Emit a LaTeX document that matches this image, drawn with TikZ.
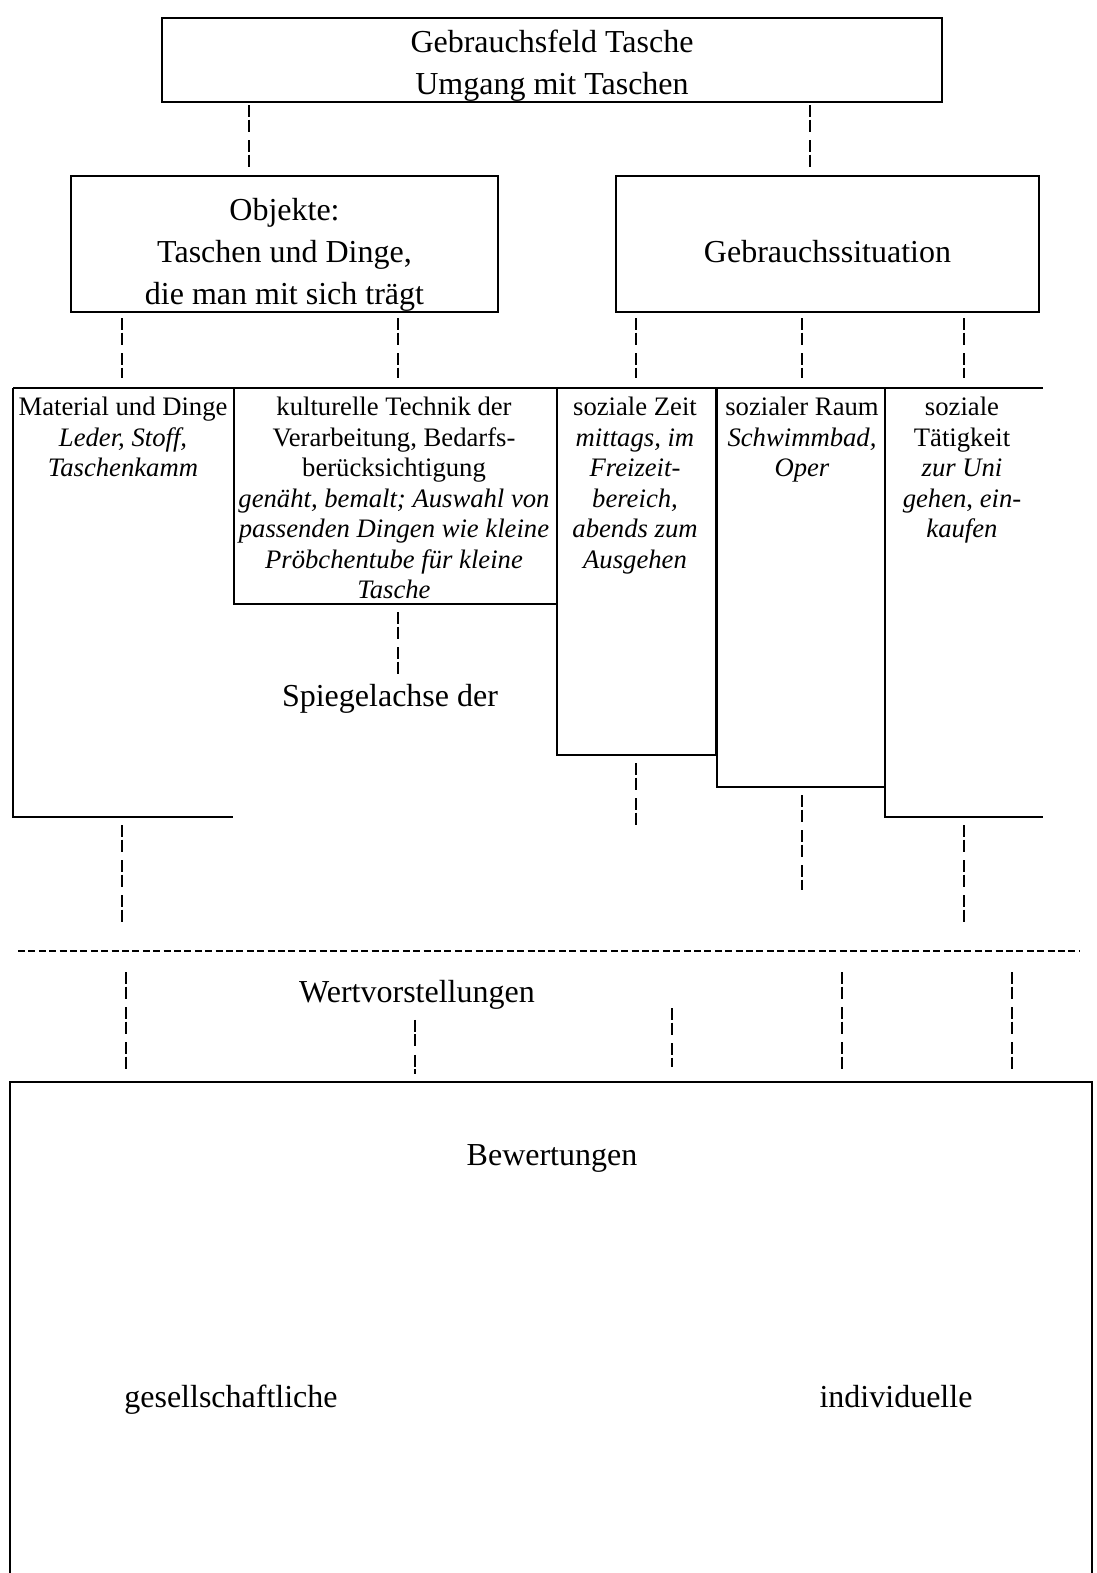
\documentclass[tikz,border=0pt]{standalone}
\usepackage{fontspec}
\setmainfont{Liberation Serif}
\newcommand{\bigtext}{\fontsize{24}{31.5}\selectfont}
\newcommand{\coltext}{\fontsize{20}{22.9}\selectfont}

\begin{document}
\begin{tikzpicture}[x=0.75pt, y=-0.75pt,
        box/.style = {draw, line width=1.6pt},
        txt/.style = {inner sep=0pt, align=center, font=\bigtext},
        col/.style = {anchor=north, inner sep=0pt, align=center, font=\coltext},
        lbl/.style = {anchor=base, inner sep=0pt, font=\bigtext},
        outline/.style = {line width=1.6pt},
        link/.style = {line width=0.9pt, dash pattern=on 9pt off 1.9pt on 9pt off 6.4pt},
        sep/.style = {line width=1.5pt, dash pattern=on 5.2pt off 2.6pt}]
                \useasboundingbox (0, 0) rectangle (1096, 1573);

                \node[box, minimum width=585pt, minimum height=63pt] at (552, 60) (top) {};
                \node[txt] at (552, 66) (top-txt) {Gebrauchsfeld Tasche\\Umgang mit Taschen};
                \node[box, minimum width=320.25pt, minimum height=102pt] at (284.5, 244) (obj) {};
                \node[txt] at (284.5, 254.5) (obj-txt) {Objekte:\\Taschen und Dinge,\\die man mit sich trägt};
                \node[box, minimum width=317.25pt, minimum height=102pt] at (827.5, 244) (sit) {};
                \node[txt] at (827.5, 252) (sit-txt) {Gebrauchssituation};

                \node[col] at (123, 397) (mat) {Material und Dinge\\\textit{Leder, Stoff,}\\\textit{Taschenkamm}};
                \node[col] at (394, 397) (kult) {kulturelle Technik der\\Verarbeitung, Bedarfs-\\berücksichtigung\\\textit{genäht, bemalt; Auswahl von}\\\textit{passenden Dingen wie kleine}\\\textit{Pröbchentube für kleine}\\\textit{Tasche}};
                \node[col] at (635, 397) (zeit) {soziale Zeit\\\textit{mittags, im}\\\textit{Freizeit-}\\\textit{bereich,}\\\textit{abends zum}\\\textit{Ausgehen}};
                \node[col] at (802, 397) (raum) {sozialer Raum\\\textit{Schwimmbad,}\\\textit{Oper}};
                \node[col] at (962, 397) (taet) {soziale\\Tätigkeit\\\textit{zur Uni}\\\textit{gehen}, \textit{ein-}\\\textit{kaufen}};

                \node[lbl] at (390, 706) (spiegel) {Spiegelachse der};
                \node[lbl] at (417, 1002) (wert) {Wertvorstellungen};

                \node[box, minimum width=811.5pt, minimum height=390pt] at (551, 1342) (bew) {};
                \node[lbl] at (552, 1165) (bewert) {Bewertungen};
                \node[lbl] at (231, 1407) (ges) {gesellschaftliche};
                \node[lbl] at (896, 1407) (ind) {individuelle};

                \draw[outline] (13, 388) -- (1043, 388);
                \draw[outline] (13, 388) -- (13, 817) -- (233, 817);
                \draw[outline] (234, 388) -- (234, 604) -- (557, 604);
                \draw[outline] (557, 388) -- (557, 755) -- (716, 755) -- (716, 388);
                \draw[outline] (717, 388) -- (717, 787) -- (885, 787);
                \draw[outline] (885, 388) -- (885, 817) -- (1043, 817);

                \coordinate (d1) at (249, 0);
                \coordinate (d2) at (810, 0);
                \coordinate (c1) at (122, 388);
                \coordinate (c2) at (398, 388);
                \coordinate (c3) at (636, 388);
                \coordinate (c4) at (802, 388);
                \coordinate (c5) at (964, 388);

                \coordinate (mat-bot) at (122, 817);
                \coordinate (kult-bot) at (398, 604);
                \coordinate (zeit-bot) at (636, 755);
                \coordinate (raum-bot) at (802, 787);
                \coordinate (taet-bot) at (964, 817);
                \coordinate (mat-end) at (122, 925);
                \coordinate (zeit-end) at (636, 825);
                \coordinate (raum-end) at (802, 890);
                \coordinate (taet-end) at (964, 925);

                \coordinate (sep-l) at (18, 951);
                \coordinate (sep-r) at (1079, 951);
                \coordinate (b1) at (126, 951);
                \coordinate (b3) at (672, 1008);
                \coordinate (b4) at (842, 951);
                \coordinate (b5) at (1012, 951);

                \draw[link, shorten <=1.5pt, shorten >=3pt] (top.south -| d1) -- (obj.north -| d1);
                \draw[link, shorten <=1.5pt, shorten >=3pt] (top.south -| d2) -- (sit.north -| d2);

                \draw[link, shorten <=3.75pt, shorten >=7.5pt] (obj.south -| c1) -- (c1);
                \draw[link, shorten <=3.75pt, shorten >=7.5pt] (obj.south -| c2) -- (c2);
                \draw[link, shorten <=3.75pt, shorten >=7.5pt] (sit.south -| c3) -- (c3);
                \draw[link, shorten <=3.75pt, shorten >=7.5pt] (sit.south -| c4) -- (c4);
                \draw[link, shorten <=3.75pt, shorten >=7.5pt] (sit.south -| c5) -- (c5);

                \draw[link, shorten <=6pt] (mat-bot) -- (mat-end);
                \draw[link, shorten <=6pt, shorten >=4.5pt] (kult-bot) -- (spiegel.north -| kult-bot);
                \draw[link, shorten <=6pt] (zeit-bot) -- (zeit-end);
                \draw[link, shorten <=6pt] (raum-bot) -- (raum-end);
                \draw[link, shorten <=6pt] (taet-bot) -- (taet-end);

                \draw[sep] (sep-l) -- (sep-r);

                \draw[link, shorten <=15.75pt, shorten >=5.25pt] (b1) -- (bew.north -| b1);
                \draw[link, shorten <=8pt, shorten >=5.25pt] (wert.south -| 415, 0) -- (bew.north -| 415, 0);
                \draw[link, shorten >=10.5pt] (b3) -- (bew.north -| b3);
                \draw[link, shorten <=15.75pt, shorten >=5.25pt] (b4) -- (bew.north -| b4);
                \draw[link, shorten <=15.75pt, shorten >=5.25pt] (b5) -- (bew.north -| b5);
            \end{tikzpicture}
\end{document}
